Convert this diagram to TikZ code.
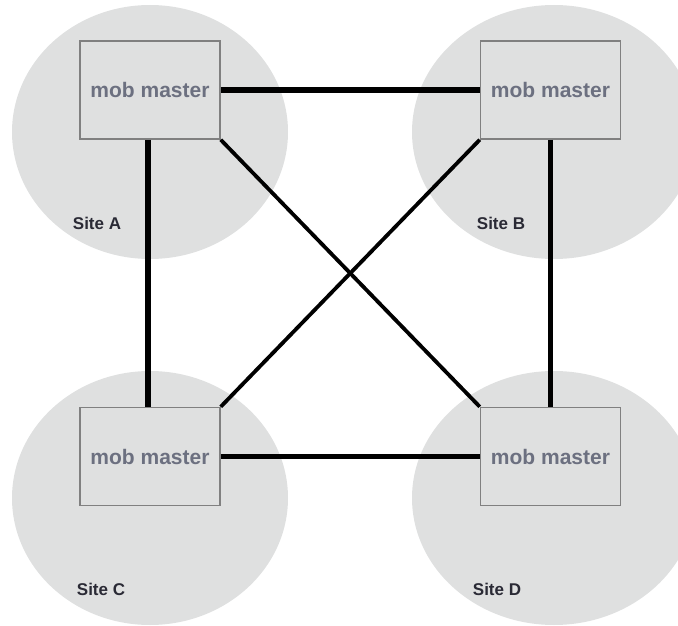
\documentclass[tikz,border=0pt]{standalone}
\usepackage{fontspec}
\setmainfont{Liberation Sans}
\definecolor{sitegrey}{HTML}{DFE0E0}
\definecolor{boxline}{HTML}{808080}
\definecolor{mobtext}{HTML}{6C7080}
\definecolor{sitetext}{HTML}{2A2A35}
\begin{document}
\begin{tikzpicture}[x=1pt,y=-1pt,
  site/.style={fill=sitegrey,draw=none},
  mob/.style={draw=boxline,line width=1.5pt,fill=sitegrey,minimum width=140pt,minimum height=98pt,inner sep=0pt,
    font=\fontsize{21}{24}\selectfont\bfseries,text=mobtext},
  sitelabel/.style={font=\fontsize{17}{20}\selectfont\bfseries,text=sitetext,inner sep=0pt},
  straight/.style={line width=5.5pt,black},
  diag/.style={line width=3.8pt,black}]
\useasboundingbox (0,0) rectangle (678,626);
\fill[site] (150,132) ellipse [x radius=138, y radius=127];
\fill[site] (554,132) ellipse [x radius=142, y radius=127];
\fill[site] (150,498) ellipse [x radius=138, y radius=127];
\fill[site] (554,498) ellipse [x radius=142, y radius=127];
\node[sitelabel] (la) at (97,223) {Site A};
\node[sitelabel] (lb) at (501,223) {Site B};
\node[sitelabel] (lc) at (101,589) {Site C};
\node[sitelabel] (ld) at (497,589) {Site D};
\node[mob] (A) at (150,90) {mob master};
\node[mob] (B) at (550.5,90) {mob master};
\node[mob] (C) at (150,456.5) {mob master};
\node[mob] (D) at (550.5,456.5) {mob master};
\draw[straight] (A.east) -- (B.west);
\draw[straight] (C.east) -- (D.west);
\draw[straight] ([xshift=-2pt]A.south) -- ([xshift=-2pt]C.north);
\draw[straight] (B.south) -- (D.north);
\draw[diag] (A.south east) -- (D.north west);
\draw[diag] (B.south west) -- (C.north east);
\end{tikzpicture}
\end{document}
